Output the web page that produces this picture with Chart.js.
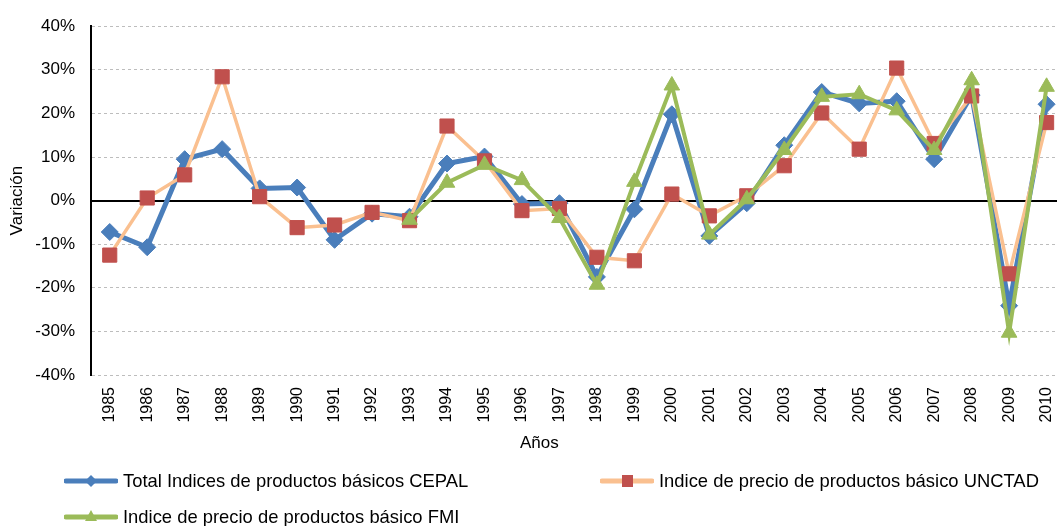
<!DOCTYPE html>
<html>
<head>
<meta charset="utf-8">
<script src="https://cdn.jsdelivr.net/npm/chart.js@4/dist/chart.umd.min.js"></script>
<style>
  body { margin: 0; overflow: hidden; background: #fff; font-family: "Liberation Sans", Arial, sans-serif; }
  #wrap { position: relative; width: 1057px; height: 526px; overflow: hidden; }
  #chart { position: absolute; left: 0; top: 0; }
  .xtitle { position: absolute; left: 520px; top: 433px; font-size: 17px; color: #000; }
  .item { position: absolute; height: 22px; display: flex; align-items: center; font-size: 18.4px; color: #000; white-space: nowrap; }
  .item svg { margin-right: 5px; }
</style>
</head>
<body>
<div id="wrap">
  <canvas id="chart" width="1078" height="526"></canvas>
  <div class="xtitle">Años</div>
  <div id="legend"></div>
</div>
<script>
// categories and series (variation in %)
const years = ['1985','1986','1987','1988','1989','1990','1991','1992','1993','1994','1995','1996','1997',
  '1998','1999','2000','2001','2002','2003','2004','2005','2006','2007','2008','2009','2010'];

const cepal = [-7.2, -10.7, 9.5, 11.8, 2.8, 3.0, -9.0, -3.0, -3.7, 8.5, 10.1, -0.8, -0.6,
  -17.5, -2.0, 19.8, -8.1, -0.6, 12.7, 24.9, 22.3, 22.8, 9.5, 24.2, -24.1, 22.1];

const unctad = [-12.5, 0.6, 5.9, 28.4, 0.9, -6.2, -5.6, -2.7, -4.6, 17.1, 9.1, -2.3, -1.8,
  -13.0, -13.8, 1.5, -3.5, 1.1, 8.0, 20.1, 11.8, 30.4, 13.1, 24.0, -16.8, 17.9];

const fmi = [null, null, null, null, null, null, null, null, -4.4, 4.1, 8.2, 4.7, -4.0,
  -19.3, 4.3, 26.4, -7.8, 0.3, 11.6, 23.8, 24.4, 20.7, 11.6, 27.6, -30.3, 26.1];

const yTicks = [-40, -30, -20, -10, 0, 10, 20, 30, 40];

const seriesNames = [
  'Total Indices de productos básicos CEPAL',
  'Indice de precio de productos básico UNCTAD',
  'Indice de precio de productos básico FMI'
];

const BLUE = '#4A7EBB';
const ORANGE = '#FAC090';
const RED = '#C0504D';
const GREEN = '#9BBB59';

function main() {
  const canvas = document.querySelector('#chart');

  new Chart(canvas.getContext('2d'), {
    type: 'line',
    data: {
      labels: years,
      datasets: [
        {
          label: seriesNames[0], data: cepal, order: 3,
          borderColor: BLUE, borderWidth: 5, backgroundColor: BLUE,
          pointStyle: 'rectRot', pointRadius: 8.5, pointBackgroundColor: BLUE,
          pointBorderColor: BLUE, pointBorderWidth: 1
        },
        {
          label: seriesNames[1], data: unctad, order: 2,
          borderColor: ORANGE, borderWidth: 3.5, backgroundColor: RED,
          pointStyle: 'rect', pointRadius: 10, pointBackgroundColor: RED,
          pointBorderColor: RED, pointBorderWidth: 1
        },
        {
          label: seriesNames[2], data: fmi, order: 1,
          borderColor: GREEN, borderWidth: 4, backgroundColor: GREEN,
          pointStyle: 'triangle', pointRadius: 9, pointBackgroundColor: GREEN,
          pointBorderColor: GREEN, pointBorderWidth: 1
        }
      ]
    },
    options: {
      responsive: false,
      animation: false,
      layout: { padding: { left: 0, right: 4, top: 26, bottom: 91 } },
      elements: { line: { tension: 0 } },
      plugins: { legend: { display: false }, tooltip: { enabled: false } },
      scales: {
        x: {
          offset: true,
          grid: { display: false, drawTicks: false },
          border: { display: false },
          ticks: {
            color: '#000', minRotation: 90, maxRotation: 90, padding: 12, autoSkip: false,
            font: { family: 'Liberation Sans', size: 16 }
          },
          afterFit: scale => { scale.height = 60; }
        },
        y: {
          min: -40, max: 40,
          afterBuildTicks: scale => { scale.ticks = yTicks.map(v => ({ value: v })); },
          grid: {
            drawTicks: false,
            color: ctx => ctx.tick && ctx.tick.value === 0 ? '#000' : '#BDBDBD',
            lineWidth: ctx => ctx.tick && ctx.tick.value === 0 ? 2 : 1
          },
          border: {
            display: true, color: '#000', width: 2,
            dash: ctx => ctx.tick && ctx.tick.value === 0 ? [] : [3, 3]
          },
          ticks: {
            color: '#000', padding: 16,
            font: { family: 'Liberation Sans', size: 17 },
            callback: v => v + '%'
          },
          title: {
            display: true, text: 'Variación', color: '#000',
            font: { family: 'Liberation Sans', size: 17 },
            padding: { top: 7, bottom: 0 }
          },
          afterFit: scale => { scale.width = 91; }
        }
      }
    }
  });

  // html legend, laid out like the original (two columns, wraps)
  const legend = document.querySelector('#legend');
  const items = [
    { name: seriesNames[0], line: BLUE, mark: BLUE, shape: 'diamond', left: 64, top: 470 },
    { name: seriesNames[1], line: ORANGE, mark: RED, shape: 'square', left: 600, top: 470 },
    { name: seriesNames[2], line: GREEN, mark: GREEN, shape: 'triangle', left: 64, top: 506 }
  ];
  items.forEach(it => {
    let shape = '';
    if (it.shape === 'diamond') shape = `<polygon points="27,5 33,11 27,17 21,11" fill="${it.mark}"/>`;
    if (it.shape === 'square') shape = `<rect x="22" y="5" width="11" height="12" fill="${it.mark}"/>`;
    if (it.shape === 'triangle') shape = `<polygon points="27,4 33,15 21,15" fill="${it.mark}"/>`;
    const div = document.createElement('div');
    div.className = 'item';
    div.style.left = it.left + 'px';
    div.style.top = it.top + 'px';
    div.innerHTML = `<svg width="54" height="22"><line x1="2" y1="11" x2="52" y2="11" stroke="${it.line}" stroke-width="5" stroke-linecap="round"/>${shape}</svg><span>${it.name}</span>`;
    legend.appendChild(div);
  });
}

main();
</script>
</body>
</html>
